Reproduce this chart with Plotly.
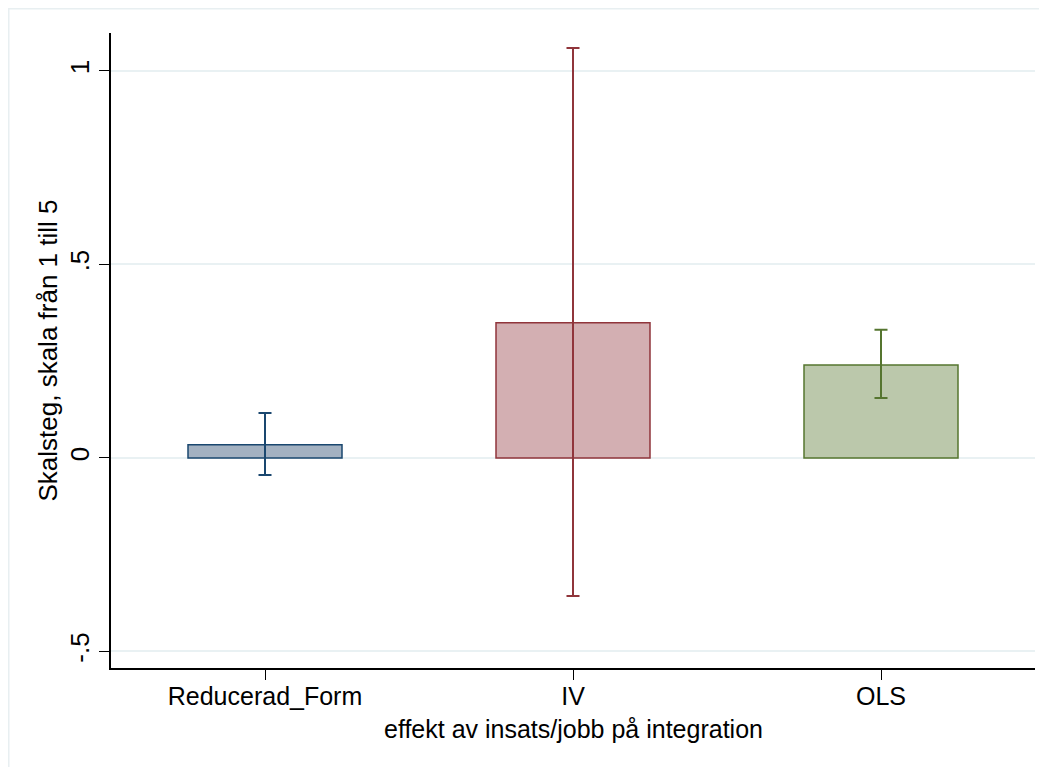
import plotly.graph_objects as go

categories = ["Reducerad_Form", "IV", "OLS"]
estimates = [0.034, 0.349, 0.240]
ci_lower = [-0.044, -0.357, 0.155]
ci_upper = [0.116, 1.059, 0.331]
ytick_vals = [-0.5, 0, 0.5, 1]
ytick_text = ["-.5", "0", ".5", "1"]

line_colors = ["#1a476f", "#90353b", "#55752f"]
fill_colors = ["#a3b1c1", "#d3afb2", "#bbc8ab"]

fig = go.Figure()
for i, cat in enumerate(categories):
    fig.add_trace(go.Bar(
        x=[cat], y=[estimates[i]], width=0.5,
        marker=dict(color=fill_colors[i], line=dict(color=line_colors[i], width=1.5)),
        error_y=dict(type="data", symmetric=False,
                     array=[ci_upper[i] - estimates[i]],
                     arrayminus=[estimates[i] - ci_lower[i]],
                     color=line_colors[i], thickness=2, width=6.5),
        showlegend=False,
    ))

font = "Liberation Sans, Arial, Helvetica, sans-serif"
fs = 26
fig.update_layout(
    width=1039, height=759,
    margin=dict(l=103, r=12, t=25, b=99),
    paper_bgcolor="white", plot_bgcolor="white",
    font=dict(family=font, size=fs, color="black"),
    xaxis=dict(
        range=[-0.5, 2.5], showline=True, linecolor="black", linewidth=1.5,
        ticks="outside", ticklen=10, tickwidth=1.2, tickcolor="black",
        showgrid=False, tickfont=dict(size=25), ticklabelstandoff=-5,
    ),
    yaxis=dict(
        range=[-0.543, 1.098], showline=True, linecolor="black", linewidth=1.5,
        ticks="outside", ticklen=10, tickwidth=1.2, tickcolor="black",
        tickvals=ytick_vals, ticktext=ytick_text, tickangle=-90,
        showgrid=True, gridcolor="#e9f1f3", gridwidth=2, zeroline=False,
        tickfont=dict(size=fs),
        title=dict(text="Skalsteg, skala från 1 till 5", font=dict(size=fs), standoff=0),
    ),
    annotations=[dict(text="effekt av insats/jobb på integration", xref="paper", yref="paper",
                      x=0.5, y=-0.096, xanchor="center", yanchor="middle",
                      showarrow=False, font=dict(size=25))],
    shapes=[dict(type="rect", xref="paper", yref="paper",
                 x0=-0.1109, x1=1.05, y0=-0.25, y1=1.0386,
                 line=dict(color="#e8eff1", width=2), fillcolor="rgba(0,0,0,0)", layer="below")],
)

fig.write_html("out.html")
